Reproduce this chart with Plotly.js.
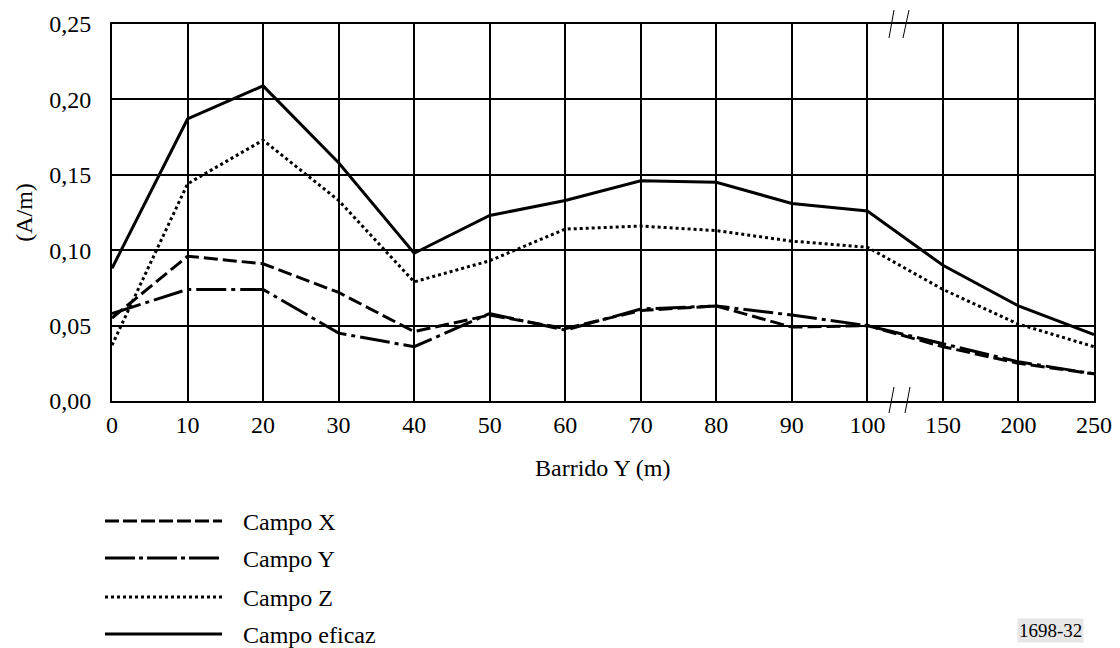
<!DOCTYPE html>
<html>
<head>
<meta charset="utf-8">
<script src="https://cdn.plot.ly/plotly-3.0.1.min.js"></script>
<style>
html,body{margin:0;padding:0;background:#fff;}
#chart{width:1120px;height:648px;}
</style>
</head>
<body>
<div id="chart"></div>
<script>
// Data
var categories = ['0','10','20','30','40','50','60','70','80','90','100','150','200','250'];
var campoX = [0.055,0.096,0.091,0.072,0.046,0.057,0.048,0.060,0.063,0.049,0.050,0.036,0.025,0.018];
var campoY = [0.058,0.074,0.074,0.045,0.036,0.058,0.047,0.061,0.063,0.057,0.050,0.038,0.026,0.018];
var campoZ = [0.037,0.144,0.173,0.133,0.079,0.093,0.114,0.116,0.113,0.106,0.102,0.074,0.051,0.036];
var campoEficaz = [0.088,0.187,0.209,0.158,0.098,0.123,0.133,0.146,0.145,0.131,0.126,0.090,0.063,0.044];
var seriesNames = ['Campo X','Campo Y','Campo Z','Campo eficaz'];
var yTickVals = [0,0.05,0.10,0.15,0.20,0.25];

var FONT = 'Liberation Serif, Times New Roman, serif';
var FS = 24;
var dashes = ['14px,5px','30px,5px,4px,5px','3px,3px','solid'];
var allSeries = [campoX, campoY, campoZ, campoEficaz];

var idx = categories.map(function(c,i){return i;});
var traces = allSeries.map(function(s,k){
  return {x: idx, y: s, type:'scatter', mode:'lines', name: seriesNames[k],
    line:{color:'#000', width:3, dash:dashes[k]}, showlegend:false, hoverinfo:'skip'};
});

// plot geometry (pixels)
var L=112, R=1094, T=24, B=401, W=1120, H=648;
function px(x){return (x-L)/(R-L);}
function py(y){return (B-y)/(B-T);}

var shapes = [];
var annotations = [];
// break marks top and bottom
[[889,38,894,10],[903,38,909,10],[889,413,894,387],[905,413,910,387]].forEach(function(s){
  shapes.push({type:'line', xref:'paper', yref:'paper', x0:px(s[0]), y0:py(s[1]), x1:px(s[2]), y1:py(s[3]), line:{color:'#000', width:1}});
});
// legend
var legY = [521,558,597,634];
seriesNames.forEach(function(n,k){
  shapes.push({type:'line', xref:'paper', yref:'paper', x0:px(105), x1:px(222), y0:py(legY[k]), y1:py(legY[k]),
    line:{color:'#000', width:3, dash:k===0?'14px,4px':(k===1?'30px,4px,4px,4px':dashes[k])}});
  annotations.push({xref:'paper', yref:'paper', x:px(241), y:py(legY[k]+1), xanchor:'left', yanchor:'middle',
    text:n, showarrow:false, font:{family:FONT, size:FS, color:'#000'}});
});
// x axis title
annotations.push({xref:'paper', yref:'paper', x:0.5, y:py(468), xanchor:'center', yanchor:'middle',
  text:'Barrido Y (m)', showarrow:false, font:{family:FONT, size:FS, color:'#000'}});
// watermark
annotations.push({xref:'paper', yref:'paper', x:px(1050), y:py(630), xanchor:'center', yanchor:'middle',
  text:'1698-32', showarrow:false, bgcolor:'#e6e6e6', borderpad:1, font:{family:FONT, size:19, color:'#000'}});

var layout = {
  width:W, height:H,
  paper_bgcolor:'#fff', plot_bgcolor:'#fff',
  margin:{l:L, r:W-R, t:T, b:H-B, pad:0},
  separators:',.',
  font:{family:FONT, size:FS, color:'#000'},
  xaxis:{
    range:[0,13], tickmode:'array', tickvals:idx, ticktext:categories,
    showgrid:true, gridcolor:'#000', gridwidth:2,
    showline:true, linecolor:'#000', linewidth:2, mirror:true,
    zeroline:false, ticks:'', ticklabelstandoff:1,
    tickfont:{family:FONT, size:FS, color:'#000'}
  },
  yaxis:{
    range:[0,0.25], tickmode:'array', tickvals:yTickVals, tickformat:'.2f',
    showgrid:true, gridcolor:'#000', gridwidth:2,
    showline:true, linecolor:'#000', linewidth:2, mirror:true,
    zeroline:false, ticks:'', ticklabelstandoff:14,
    tickfont:{family:FONT, size:FS, color:'#000'},
    title:{text:'(A/m)', font:{family:FONT, size:FS, color:'#000'}, standoff:10}
  },
  shapes:shapes,
  annotations:annotations
};

Plotly.newPlot('chart', traces, layout, {staticPlot:true, displayModeBar:false});
</script>
</body>
</html>
